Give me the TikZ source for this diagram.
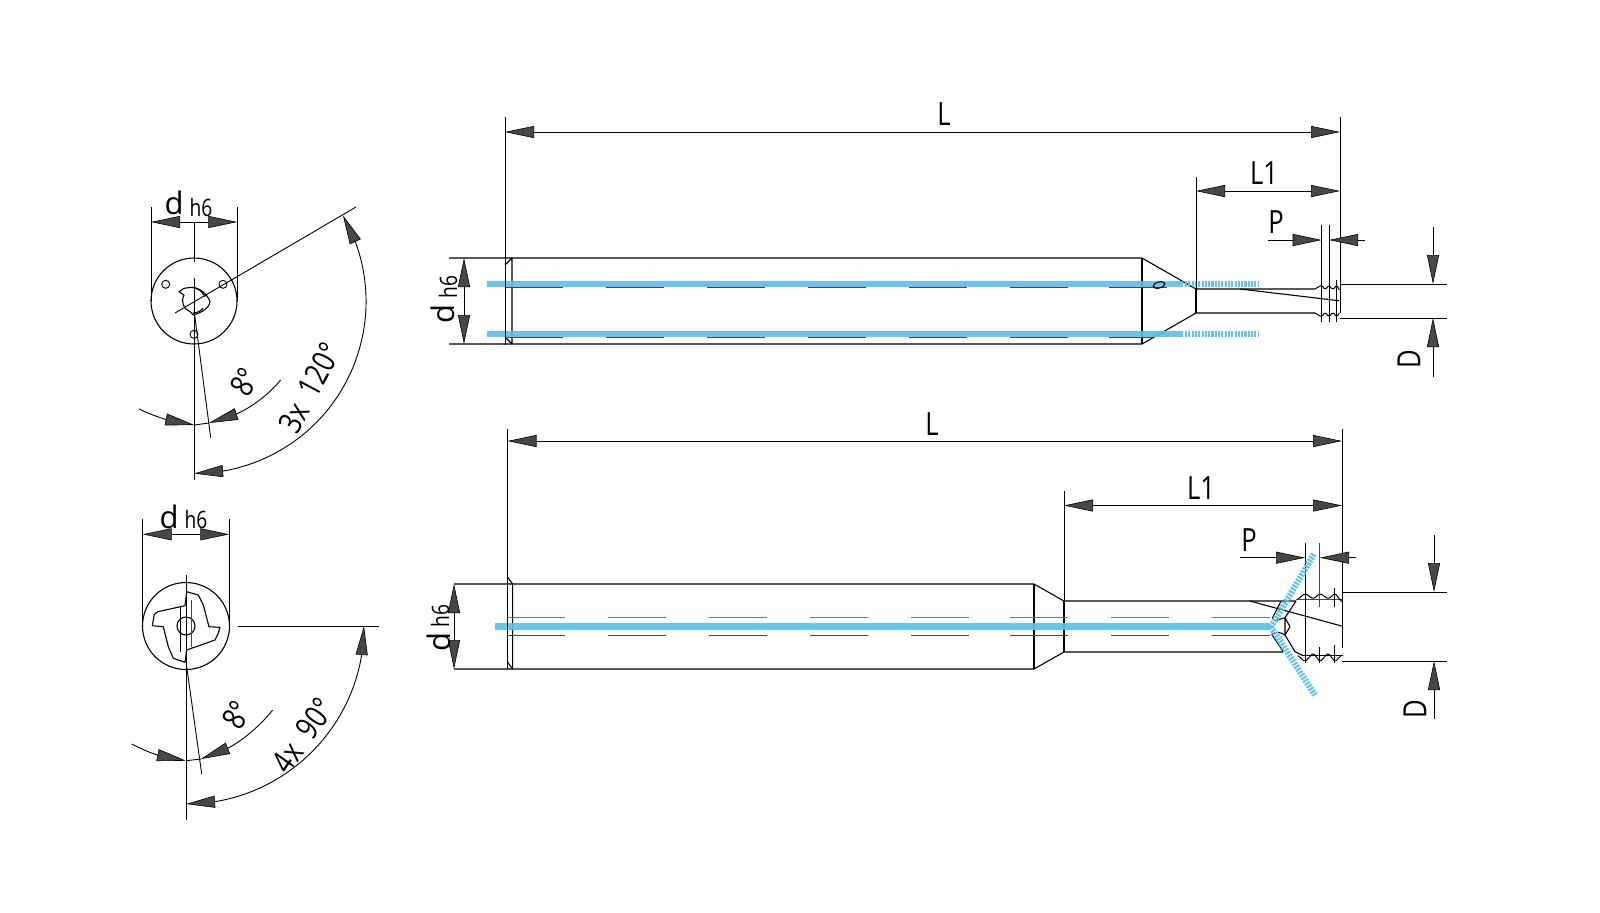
\documentclass[tikz,border=0pt]{standalone}
\usepackage{fontspec}
\setmainfont[FakeStretch=0.8]{Open Sans}
\newfontfamily\shankfont{Open Sans}
\usetikzlibrary{arrows.meta,bending,calc}
\definecolor{coolant}{HTML}{5AC0EE}
\tikzset{
  dimtip/.tip={Triangle[length=14.5pt,width=6pt,fill=black!72,line width=.3pt]},
  part/.style={line width=.55pt,line join=round},
  dimline/.style={line width=.45pt},
  hidden/.style={line width=.5pt,black!72},
  faint/.style={line width=.5pt,black!55},
  thread/.style={line width=.5pt,rounded corners=.8pt},
  coolline/.style={coolant,line width=3.3pt,opacity=.92},
  coolhatch/.style={coolant,line width=3.1pt,opacity=.95,dash pattern=on 1.05pt off .6pt},
  biglabel/.style={inner sep=0pt,font=\fontsize{16}{17}\selectfont},
  shanklabel/.style={inner sep=0pt,font=\shankfont\fontsize{15.5}{16}\selectfont},
  smalllabel/.style={inner sep=0pt,font=\fontsize{12}{13}\selectfont}
}
\begin{document}
\begin{tikzpicture}[x=.5pt,y=-.5pt]
  \useasboundingbox (0,0) rectangle (1600,912);
  % upper tool
  \draw[part] (449,258) -- (1142,258) -- (1196,289) -- (1315,289);
  \draw[part] (449,344) -- (1142,344) -- (1196,313) -- (1315,313);
  \draw[part] (1142,258) -- (1142,344);
  \draw[part,line width=1pt] (1196,289) -- (1196,313);
  \draw[part] (505,265) -- (512,258) -- (512,344) -- (505,337);
  \draw[part] (1240,289) -- (1339,300.7);
  % upper thread
  \draw[thread] (1315,289) -- (1321.7,285) -- (1325,290) -- (1329,285) -- (1332.7,290) -- (1336.7,285) -- (1339.3,290);
  \draw[thread] (1315,313) -- (1321.7,317) -- (1325,312) -- (1329,317) -- (1332.7,312) -- (1336.7,317) -- (1339.3,313);
  \foreach \xa in {1321.7,1329}
    \draw[dimline] (\xa,225) -- (\xa,322);
  \draw[dimline] (1336.7,280) -- (1336.7,322);
  % upper coolant
  \draw[coolline] (487,284) -- (1183,284);
  \draw[coolline] (487,334) -- (1183,334);
  \draw[coolhatch] (1185,284) -- (1258,284);
  \draw[coolhatch] (1185,334) -- (1258,334);
  \foreach \xa in {505,606,707,808,909,1010} {
    \draw[hidden] (\xa,287.8) -- ++(58,0);
    \draw[hidden] (\xa,337.3) -- ++(58,0);
  }
  \draw[hidden] (1109,287.8) -- (1167,287.8);
  \draw[hidden] (1109,337.3) -- (1152,337.3);
  \draw[part,rotate around={15:(1159,285)}] (1159,285) ellipse (6 and 3);
  % upper dimensions
  \draw[dimline] (505,117) -- (505,345);
  \draw[dimline] (1340,117) -- (1340,313);
  \draw[dimline] (1196,177) -- (1196,289);
  \draw[dimline,dimtip-dimtip] (505,132) -- (1340,132);
  \draw[dimline,dimtip-dimtip] (1196,191) -- (1340,191);
  \draw[dimline,dimtip-dimtip] (464,258) -- (464,344);
  \draw[dimline,-dimtip] (1268,240) -- (1321.7,240);
  \draw[dimline,-dimtip] (1365,240) -- (1329,240);
  \draw[dimline] (1340,284) -- (1447,284);
  \draw[dimline] (1340,318) -- (1447,318);
  \draw[dimline,-dimtip] (1433,227) -- (1433,284);
  \draw[dimline,-dimtip] (1433,377) -- (1433,318);
  \node[biglabel] (lenA) at (944,114) {L};
  \node[biglabel] (lenB) at (1264,173) {L1};
  \node[biglabel] (pitchA) at (1276,222) {P};
  \node[biglabel,rotate=90] (diamA) at (1409,359) {D};
  \node[shanklabel,rotate=90] (shankA) at (443,314) {d};
  \node[smalllabel,rotate=90] (toleranceA) at (448,287) {h6};
  % lower tool
  \draw[part] (454,584) -- (1034,584) -- (1064,601) -- (1296,601) -- (1285,617.7);
  \draw[part] (454,669) -- (1034,669) -- (1064,652) -- (1283.3,652);
  \draw[part] (1034,584) -- (1034,669);
  \draw[part,line width=1pt] (1064,601) -- (1064,652);
  \draw[part] (507.5,577) -- (512.6,584) -- (512.6,669) -- (507.5,662);
  \draw[part] (1250,601) -- (1341.7,626);
  \foreach \xa in {507,608,709,810,911,1010,1111,1212} {
    \draw[faint] (\xa,617.7) -- ++(58,0);
    \draw[hidden] (\xa,635) -- ++(58,0);
  }
  % lower flute and thread
  \draw[part] (1280.7,601.7) -- (1272.3,618.3) -- (1275,620.7) -- (1285,617.7) -- (1290,626.7) -- (1285,635) -- (1285,617.7);
  \draw[part] (1285,635) -- (1295,651.7) -- (1303,655.7);
  \draw[part] (1271.7,634.3) .. controls (1276,631.5) and (1281,632) .. (1285,635);
  \draw[part] (1271.7,634.3) -- (1283.3,651.7);
  \draw[hidden] (1296,599) -- (1343,599);
  \draw[part] (1303,655.7) -- (1343,655.7);
  \draw[thread] (1298,599) -- (1305,593.3) -- (1313.3,599) -- (1320,593.3) -- (1328.3,599) -- (1335,593.3) -- (1341.7,601.7);
  \draw[thread] (1298,655.7) -- (1305,661.7) -- (1313.3,653) -- (1320,661.7) -- (1328.3,653) -- (1335,661.7) -- (1341.7,655);
  \draw[dimline] (1305,543) -- (1305,663);
  \draw[hidden] (1319.5,543) -- (1319.5,607);
  \draw[dimline] (1319.5,647) -- (1319.5,663);
  \draw[dimline] (1334,588) -- (1334,607);
  \draw[dimline] (1334,645) -- (1334,663);
  % lower coolant
  \draw[coolline] (495,626.7) -- (1270,626.7);
  \draw[coolhatch] (1271,627) -- (1314,554);
  \draw[coolhatch] (1271,627) -- (1315,695);
  % lower dimensions
  \draw[dimline] (507.5,429) -- (507.5,669);
  \draw[dimline] (1342,429) -- (1342,648);
  \draw[dimline] (1064,491) -- (1064,601);
  \draw[dimline,dimtip-dimtip] (507.5,441) -- (1342,441);
  \draw[dimline,dimtip-dimtip] (1064,505.5) -- (1342,505.5);
  \draw[dimline,dimtip-dimtip] (454,584) -- (454,669);
  \draw[dimline,-dimtip] (1240,557.7) -- (1305,557.7);
  \draw[dimline,-dimtip] (1356,557.7) -- (1320,557.7);
  \draw[dimline] (1342,592) -- (1447,592);
  \draw[dimline] (1342,661) -- (1447,661);
  \draw[dimline,-dimtip] (1434,535) -- (1434,592);
  \draw[dimline,-dimtip] (1434,719) -- (1434,661);
  \node[biglabel] (lenC) at (932,424) {L};
  \node[biglabel] (lenD) at (1201,488) {L1};
  \node[biglabel] (pitchB) at (1249,540) {P};
  \node[biglabel,rotate=90] (diamB) at (1415,709) {D};
  \node[shanklabel,rotate=90] (shankB) at (439,642) {d};
  \node[smalllabel,rotate=90] (toleranceB) at (440,616) {h6};
  % upper section
  \draw[part] (194,301) circle (43);
  \foreach \xa/\ya in {165.7/284.3,223/284.3,194/334.3}
    \draw[dimline] (\xa,\ya) circle (4);
  \draw[part] (179,291.7) -- (184,288.3) -- (191.7,287.3) .. controls (200,287.5) and (208,295) .. (210,301.7)
    .. controls (209,309) and (200,313) .. (193.3,315) -- (190,311.7) -- (185,308.3)
    .. controls (182,303) and (182,299) .. (184,295) -- cycle;
  \draw[part] (191.7,287.3) .. controls (198,288) and (202,291) .. (205,296.7);
  \draw[part] (193,313) .. controls (197,313) and (201,311) .. (203,308);
  \draw[dimline] (151,207) -- (151,301);
  \draw[dimline] (237.3,207) -- (237.3,301);
  \draw[dimline] (194.3,223) -- (194.3,262);
  \draw[dimline] (194.3,278) -- (194.3,480);
  \draw[dimline] (175,313) -- (356,207);
  \draw[dimline] (194,310) -- (210.7,437.7);
  \draw[dimline,dimtip-dimtip] (151,222) -- (237.3,222);
  \draw[dimline,-dimtip] (139,409) .. controls (156,417) and (175,423.5) .. (194.3,425);
  \draw[dimline,-dimtip] (280.7,380) .. controls (262,402) and (238,417) .. (209,423);
  \draw[dimline] (194.3,425) -- (209,423);
  \draw[dimline,dimtip-dimtip] (343,215.5) arc (-30:90:172);
  \node[shanklabel] (shankC) at (174,203) {d};
  \node[smalllabel] (toleranceC) at (201,207) {h6};
  \node[biglabel,rotate=60] (draftA) at (245,382) {8°};
  \node[biglabel,rotate=62] (indexA) at (310,388) {3x\ \ 120°};
  % lower section
  \draw[part] (186,626) circle (43.5);
  \draw[part] (186,626) circle (9);
  \draw[part] (186.7,591.7) -- (198.3,595) -- (203.3,605) -- (209,626.7) -- (220,627.3) -- (218.3,633.3) -- (215,640)
    -- (186.7,650) -- (185,662.3) -- (173.3,658.3) -- (168.3,646.7) -- (163.3,626.7) -- (152.3,625.7) -- (154.3,614.3)
    -- (157.7,611.7) -- (185,605.7) -- cycle;
  \draw[dimline] (180,606.7) -- (180,652.3);
  \draw[hidden] (191.7,600) -- (191.7,646.7);
  \draw[dimline] (142.7,519.3) -- (142.7,626);
  \draw[dimline] (229.3,519.3) -- (229.3,626);
  \draw[dimline] (186,575) -- (186,820);
  \draw[dimline] (186.7,666.7) -- (201.7,774);
  \draw[dimline] (237.7,626) -- (379,626);
  \draw[dimline,dimtip-dimtip] (142.7,534.3) -- (229.3,534.3);
  \draw[dimline,-dimtip] (131.7,744) .. controls (149,753) and (167,759.5) .. (186,760.7);
  \draw[dimline,-dimtip] (272.7,710) .. controls (254,733) and (229,752) .. (201,759);
  \draw[dimline] (186,760.7) -- (201,759);
  \draw[dimline,dimtip-dimtip] (364,626) arc (0:90:178);
  \node[shanklabel] (shankD) at (169,517) {d};
  \node[smalllabel] (toleranceD) at (196,519) {h6};
  \node[biglabel,rotate=60] (draftB) at (237,715) {8°};
  \node[biglabel,rotate=55] (indexB) at (303,735) {4x\ \ 90°};
\end{tikzpicture}
\end{document}
